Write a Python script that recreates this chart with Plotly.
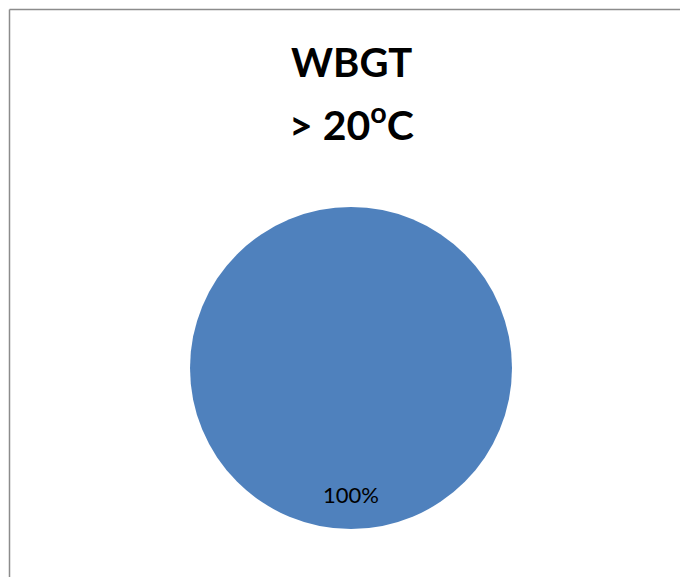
import plotly.graph_objects as go

labels = ["WBGT > 20°C"]
values = [100]
title_lines = ["WBGT", "> 20<sup>o</sup>C"]

W, H = 680, 577
cx, cy, r = 351, 368, 161

total = sum(values)
pct_text = [f"{round(v / total * 100)}%" for v in values]

fig = go.Figure(go.Pie(
    labels=labels,
    values=values,
    marker=dict(colors=["#4F81BD"], line=dict(width=0)),
    textinfo="none",
    sort=False,
    showlegend=False,
    hoverinfo="label+percent",
    domain=dict(x=[(cx - r) / W, (cx + r) / W], y=[(H - cy - r) / H, (H - cy + r) / H]),
))

annotations = [
    dict(text=title_lines[0], x=351 / W, y=1 - 62 / H, xref="paper", yref="paper",
         xanchor="center", yanchor="middle",
         showarrow=False, font=dict(family="Lato", size=40, color="#000000", weight="bold")),
    dict(text=title_lines[1], x=351 / W, y=1 - 122 / H, xref="paper", yref="paper",
         xanchor="center", yanchor="middle",
         showarrow=False, font=dict(family="Lato", size=41, color="#000000", weight="bold")),
    dict(text=pct_text[0], x=351 / W, y=1 - 494 / H, xref="paper", yref="paper",
         xanchor="center", yanchor="middle",
         showarrow=False, font=dict(family="Lato", size=22, color="#000000")),
]

fig.update_layout(
    width=W, height=H,
    margin=dict(l=0, r=0, t=0, b=0),
    paper_bgcolor="white",
    plot_bgcolor="white",
    annotations=annotations,
    shapes=[
        dict(type="line", xref="paper", yref="paper", x0=9.5 / W, x1=1, y0=1 - 9.5 / H, y1=1 - 9.5 / H,
             line=dict(color="#8c8c8c", width=1.5)),
        dict(type="line", xref="paper", yref="paper", x0=9.5 / W, x1=9.5 / W, y0=0, y1=1 - 9.5 / H,
             line=dict(color="#8c8c8c", width=1.5)),
    ],
)

fig.write_html("out.html", config={"displayModeBar": False},
               post_script="document.body.style.margin='0';document.body.style.padding='0';")
